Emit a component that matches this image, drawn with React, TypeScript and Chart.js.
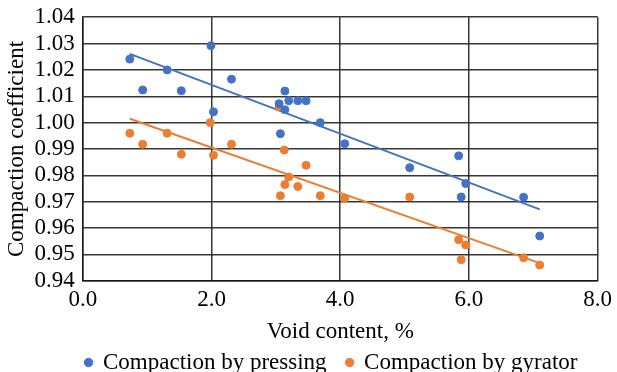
import React, { useEffect, useRef } from "react";
import { Chart, registerables } from "chart.js";

Chart.register(...registerables);

const pressingX = [0.73, 0.93, 1.31, 1.53, 1.99, 2.31, 2.03, 3.14, 3.05, 3.2, 3.34, 3.47, 3.14, 3.69, 3.07, 4.07, 5.08, 5.84, 5.95, 5.88, 6.85, 7.1];
const pressingY = [1.0241, 1.0124, 1.02, 1.0121, 1.0292, 1.0165, 1.0041, 1.012, 1.0072, 1.0083, 1.0083, 1.0083, 1.0049, 1.0, 0.9958, 0.992, 0.9829, 0.9874, 0.9769, 0.9718, 0.9717, 0.957];
const gyratorX = [0.73, 0.93, 1.31, 1.53, 1.98, 2.03, 2.31, 3.05, 3.13, 3.47, 3.2, 3.14, 3.34, 3.07, 3.69, 4.07, 5.08, 5.84, 5.95, 5.88, 6.85, 7.1];
const gyratorY = [0.996, 0.9918, 0.996, 0.988, 1.0, 0.9876, 0.9918, 1.0059, 0.9896, 0.9838, 0.9794, 0.9765, 0.9758, 0.9723, 0.9723, 0.9713, 0.9718, 0.9556, 0.9536, 0.948, 0.9487, 0.946];
const trendX = [0.73, 7.1];
const pressingTrendY = [1.0261, 0.9671];
const gyratorTrendY = [1.0015, 0.9467];

const xTicks = [0, 2, 4, 6, 8];

const BLUE = "#4472C4";
const ORANGE = "#ED7D31";
const GRID = "rgba(20,20,20,0.85)";
const FONT = "'Liberation Serif', 'Times New Roman', serif";
const FS = 23;
const LEGEND_SHIFT = 26;

const shiftLegend = {
  id: "shiftLegend",
  afterLayout(chart: any) {
    const lg = chart.legend;
    if (lg) {
      lg.left += LEGEND_SHIFT;
      lg.right += LEGEND_SHIFT;
    }
  },
};

export default function App() {
  const ref = useRef<HTMLCanvasElement | null>(null);
  useEffect(() => {
    document.body.style.margin = "0";
    const zip = (xs: number[], ys: number[]) => xs.map((x, i) => ({ x, y: ys[i] }));
    const chart = new Chart(ref.current!, {
      type: "scatter",
      plugins: [shiftLegend],
      data: {
        datasets: [
          {
            label: "Compaction by pressing",
            data: zip(pressingX, pressingY),
            backgroundColor: BLUE,
            borderColor: BLUE,
            pointRadius: 4,
            pointHoverRadius: 4,
          },
          {
            label: "Compaction by gyrator",
            data: zip(gyratorX, gyratorY),
            backgroundColor: ORANGE,
            borderColor: ORANGE,
            pointRadius: 4,
            pointHoverRadius: 4,
          },
          {
            label: "trend1",
            data: zip(trendX, pressingTrendY),
            showLine: true,
            borderColor: BLUE,
            borderWidth: 2,
            pointRadius: 0,
          },
          {
            label: "trend2",
            data: zip(trendX, gyratorTrendY),
            showLine: true,
            borderColor: ORANGE,
            borderWidth: 2,
            pointRadius: 0,
          },
        ],
      },
      options: {
        animation: false,
        responsive: false,
        layout: { padding: { left: 1, right: 7, top: 0, bottom: -12 } },
        plugins: {
          tooltip: { enabled: false },
          legend: {
            position: "bottom",
            labels: {
              usePointStyle: true,
              pointStyle: "circle",
              boxWidth: 6,
              boxHeight: 6,
              padding: 20,
              color: "#000",
              font: { family: FONT, size: FS },
              filter: (item) => !String(item.text).startsWith("trend"),
            },
          },
        },
        scales: {
          x: {
            type: "linear",
            min: 0,
            max: 8,
            afterBuildTicks: (axis) => {
              axis.ticks = xTicks.map((v) => ({ value: v }));
            },
            ticks: {
              color: "#000",
              font: { family: FONT, size: FS },
              padding: 5,
              autoSkip: false,
              maxRotation: 0,
              callback: (v) => Number(v).toFixed(1),
            },
            grid: { color: GRID, lineWidth: 1.5, drawTicks: false },
            border: { color: GRID, width: 1.5 },
            title: {
              display: true,
              text: "Void content, %",
              color: "#000",
              font: { family: FONT, size: FS },
              padding: { top: 0, bottom: -15 },
            },
          },
          y: {
            type: "linear",
            min: 0.94,
            max: 1.04,
            ticks: {
              stepSize: 0.01,
              autoSkip: false,
              color: "#000",
              font: { family: FONT, size: FS, lineHeight: 0.8 },
              padding: 8,
              callback: (v) => Number(v).toFixed(2),
            },
            grid: { color: GRID, lineWidth: 1.5, drawTicks: false },
            border: { color: GRID, width: 1.5 },
            title: {
              display: true,
              text: "Compaction coefficient",
              color: "#000",
              font: { family: FONT, size: FS },
              padding: { top: 2, bottom: -4 },
            },
          },
        },
      },
    });
    return () => chart.destroy();
  }, []);
  return <canvas ref={ref} width={617} height={372} style={{ display: "block" }} />;
}
